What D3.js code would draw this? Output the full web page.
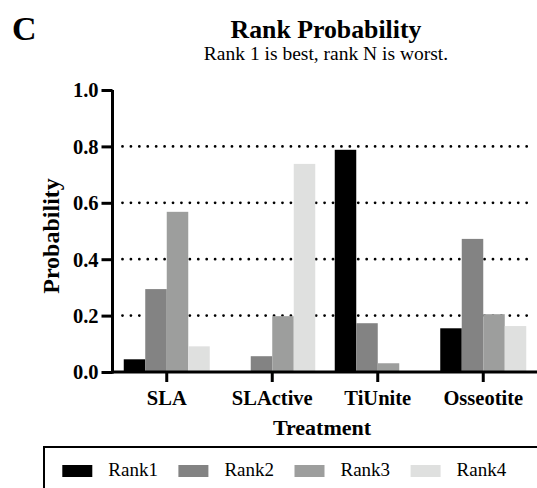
<!DOCTYPE html>
<html><head><meta charset="utf-8">
<script src="https://cdn.jsdelivr.net/npm/d3@7"></script>
<style>
html,body{margin:0;padding:0;background:#fff;}
svg{display:block;}
text{font-family:"Liberation Serif","Times New Roman",serif;fill:#000;}
</style></head>
<body>
<svg id="chart" width="537" height="488"></svg>
<script>
const categories = ["SLA", "SLActive", "TiUnite", "Osseotite"];
const seriesNames = ["Rank1", "Rank2", "Rank3", "Rank4"];
const rank1 = [0.045, 0.0, 0.788, 0.155];
const rank2 = [0.294, 0.056, 0.173, 0.472];
const rank3 = [0.568, 0.198, 0.031, 0.205];
const rank4 = [0.091, 0.738, 0.004, 0.163];
const seriesColors = ["#000000", "#838383", "#9d9e9d", "#dfe0df"];
const yTicks = [0.0, 0.2, 0.4, 0.6, 0.8, 1.0];
const gridTicks = [0.2, 0.4, 0.6, 0.8];

const series = [rank1, rank2, rank3, rank4];
const svg = d3.select("#chart");

const y = d3.scaleLinear().domain([0, 1]).range([372, 90]);
const x0 = d3.scaleBand().domain(categories).range([114, 536]).padding(0);
const grpPad = 9.75;
const x1 = d3.scaleBand().domain(seriesNames).range([grpPad, x0.bandwidth() - grpPad]).padding(0);

// Panel letter, title, subtitle
svg.append("text").attr("x", 12).attr("y", 40).attr("font-size", 34).attr("font-weight", "bold").text("C");
svg.append("text").attr("x", 326).attr("y", 38).attr("text-anchor", "middle")
  .attr("font-size", 25.8).attr("font-weight", "bold").text("Rank Probability");
svg.append("text").attr("x", 326).attr("y", 60).attr("text-anchor", "middle")
  .attr("font-size", 19.5).text("Rank 1 is best, rank N is worst.");

// gridlines
svg.append("g").selectAll("line").data(gridTicks).join("line")
  .attr("x1", 122.5).attr("x2", 532)
  .attr("y1", d => y(d)).attr("y2", d => y(d))
  .attr("stroke", "#000").attr("stroke-width", 2.8)
  .attr("stroke-linecap", "round").attr("stroke-dasharray", "0 8.42");

// bars
const groups = svg.append("g").selectAll("g").data(categories).join("g")
  .attr("transform", d => `translate(${x0(d)},0)`);
groups.selectAll("rect").data((c, ci) => seriesNames.map((s, si) => ({s, si, v: series[si][ci]})))
  .join("rect")
  .attr("x", d => x1(d.s)).attr("width", x1.bandwidth())
  .attr("y", d => y(d.v)).attr("height", d => y(0) - y(d.v))
  .attr("fill", d => seriesColors[d.si]);

// y axis
const yAxis = svg.append("g").attr("transform", "translate(112.5,0)")
  .call(d3.axisLeft(y).tickValues(yTicks).tickFormat(d3.format(".1f")).tickSize(11).tickPadding(3));
yAxis.select(".domain").attr("stroke-width", 3).attr("d", `M0,${y(1)}V${y(0)+1.5}`);
yAxis.selectAll(".tick line").attr("stroke-width", 3);
yAxis.selectAll(".tick text").attr("font-size", 20.5).attr("font-weight", "bold")
  .attr("font-family", "Liberation Serif").attr("dy", "0.34em");

// x axis
const xAxis = svg.append("g").attr("transform", "translate(0,372)")
  .call(d3.axisBottom(x0).tickSize(10).tickPadding(8));
xAxis.select(".domain").attr("stroke-width", 3).attr("d", "M111,0H537");
xAxis.selectAll(".tick line").attr("stroke-width", 3);
xAxis.selectAll(".tick text").attr("font-size", 20.5).attr("font-weight", "bold")
  .attr("font-family", "Liberation Serif").attr("dy", "0.71em");

// axis titles
svg.append("text").attr("transform", "translate(59,236) rotate(-90)").attr("text-anchor", "middle")
  .attr("font-size", 24).attr("font-weight", "bold").text("Probability");
svg.append("text").attr("x", 322).attr("y", 435).attr("text-anchor", "middle")
  .attr("font-size", 22).attr("font-weight", "bold").text("Treatment");

// legend
svg.append("rect").attr("x", 44).attr("y", 447).attr("width", 500).attr("height", 60)
  .attr("fill", "none").attr("stroke", "#000").attr("stroke-width", 2);
const lg = svg.append("g").selectAll("g").data(seriesNames).join("g")
  .attr("transform", (d, i) => `translate(${62.3 + i * 116.1},0)`);
lg.append("rect").attr("x", 0).attr("y", 465).attr("width", 30).attr("height", 12)
  .attr("fill", (d, i) => seriesColors[i]);
lg.append("text").attr("x", 46).attr("y", 476).attr("font-size", 19).text(d => d);
</script>
</body></html>
